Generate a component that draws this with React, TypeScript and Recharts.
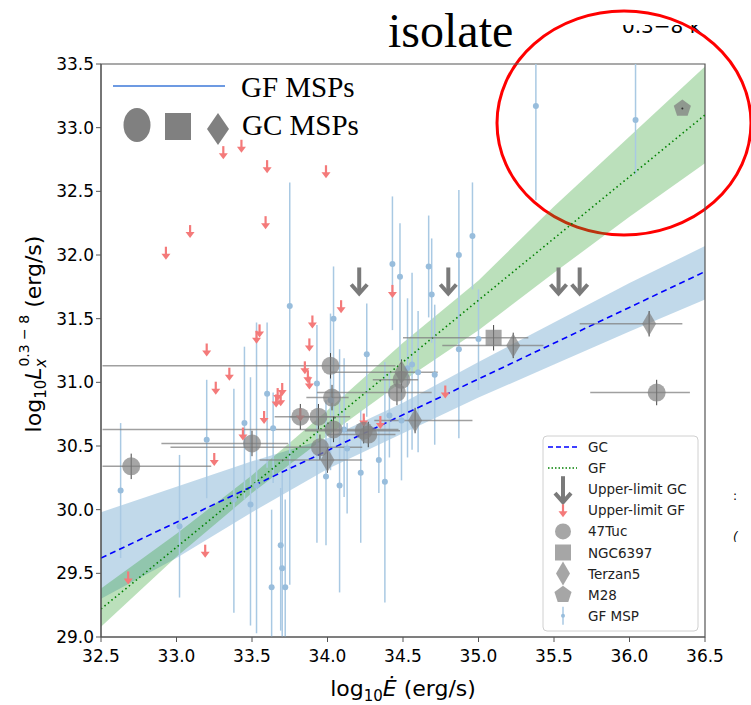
import React from "react";
import {
  Area,
  ComposedChart,
  Customized,
  ErrorBar,
  Line,
  ReferenceArea,
  Scatter,
  XAxis,
  YAxis,
} from "recharts";

// confidence bands of the two fits, read at these log Edot values
const bandX = [32.5, 33.0, 33.5, 34.0, 34.5, 35.0, 35.5, 36.0, 36.5];
const gcBandLow = [29.3, 29.62, 29.98, 30.32, 30.6, 30.88, 31.14, 31.4, 31.65];
const gcBandHigh = [29.98, 30.18, 30.38, 30.56, 30.84, 31.16, 31.47, 31.78, 32.07];
const gfBandLow = [29.08, 29.63, 30.13, 30.58, 31.01, 31.41, 31.86, 32.3, 32.72];
const gfBandHigh = [29.38, 29.81, 30.27, 30.78, 31.31, 31.8, 32.38, 32.93, 33.48];

// best-fit lines (end points)
const fitX = [32.5, 36.5];
const gcFitY = [29.62, 31.87];
const gfFitY = [29.22, 33.1];

// GF MSPs with detections (value, lower and upper end of the y error)
const gfMspX = [32.63, 33.02, 33.2, 33.38, 33.45, 33.49, 33.53, 33.6, 33.63, 33.64, 33.69, 33.7, 33.72, 33.75, 33.93, 33.99, 34.02, 34.04, 34.08, 34.11, 34.13, 34.22, 34.26, 34.34, 34.38, 34.41, 34.43, 34.48, 34.49, 34.53, 34.56, 34.6, 34.67, 34.69, 34.71, 34.87, 34.87, 34.96, 35.0, 35.38, 36.04];
const gfMspY = [30.15, 29.87, 30.55, 30.08, 30.68, 30.04, 30.19, 30.91, 29.39, 30.64, 29.72, 29.54, 29.39, 31.6, 30.99, 30.26, 30.86, 31.5, 30.19, 30.63, 30.48, 30.29, 31.22, 30.39, 30.22, 30.74, 31.93, 31.83, 30.7, 31.11, 31.14, 31.08, 31.91, 31.69, 31.06, 32.0, 31.26, 32.15, 31.34, 33.17, 33.06];
const gfMspLo = [29.62, 29.31, 30.09, 29.19, 30.08, 29.09, 29.03, 30.33, 29.0, 30.21, 29.05, 29.0, 29.0, 29.41, 29.74, 29.72, 30.31, 30.7, 29.35, 30.1, 29.97, 29.74, 30.73, 30.13, 29.27, 30.41, 31.41, 31.17, 30.23, 30.41, 30.47, 30.45, 31.51, 31.31, 30.51, 31.41, 30.56, 31.73, 30.94, 32.43, 32.63];
const gfMspHi = [30.68, 30.43, 31.02, 30.95, 31.28, 31.04, 31.47, 31.47, 30.0, 30.92, 30.17, 30.31, 30.08, 32.57, 31.45, 30.86, 31.54, 31.91, 31.26, 31.19, 30.68, 30.78, 31.62, 30.63, 31.16, 31.08, 32.46, 32.25, 31.07, 31.66, 31.86, 31.56, 32.31, 32.13, 31.61, 32.51, 31.96, 32.57, 31.73, 33.5, 33.5];

// upper limits
const ulGfX = [32.68, 32.93, 33.09, 33.19, 33.2, 33.25, 33.26, 33.31, 33.35, 33.43, 33.44, 33.53, 33.55, 33.58, 33.59, 33.6, 33.66, 33.67, 33.69, 33.7, 33.82, 33.85, 33.87, 33.88, 33.88, 33.9, 33.99, 34.09, 34.24, 34.35, 34.43, 34.78];
const ulGfY = [29.46, 32.01, 32.18, 29.67, 31.25, 30.39, 30.95, 32.8, 31.06, 32.85, 30.59, 31.35, 31.4, 30.72, 32.25, 32.69, 30.85, 30.9, 30.86, 30.94, 30.74, 31.11, 31.04, 30.99, 31.29, 31.47, 32.65, 31.59, 30.7, 30.68, 31.71, 30.92];
const ulGcX = [34.21, 34.8, 35.53, 35.67];
const ulGcY = [31.8, 31.8, 31.8, 31.8];

// globular cluster MSPs (y value, x error range)
const tucX = [32.7, 33.5, 33.82, 33.94, 34.02, 34.03, 34.04, 33.95, 34.24, 34.27, 34.46, 34.49, 36.18];
const tucY = [30.34, 30.52, 30.73, 30.73, 31.13, 30.88, 30.63, 30.49, 30.62, 30.59, 30.92, 31.02, 30.92];
const tucXLo = [32.51, 32.9, 33.65, 33.75, 32.51, 33.86, 32.51, 32.96, 33.85, 34.0, 33.93, 34.3, 35.74];
const tucXHi = [33.23, 33.74, 34.05, 34.15, 34.45, 34.14, 34.47, 34.23, 34.48, 34.45, 34.69, 34.6, 36.4];

const ngcX = [35.1];
const ngcY = [31.35];
const ngcXLo = [34.5];
const ngcXHi = [35.33];

const terX = [34.0, 34.49, 34.58, 35.23, 36.13];
const terY = [30.39, 31.08, 30.7, 31.29, 31.46];
const terXLo = [33.55, 34.02, 34.31, 34.76, 35.67];
const terXHi = [34.23, 34.73, 34.96, 35.43, 36.35];

const m28X = [36.35];
const m28Y = [33.15];

const gcYErr = 0.1;

const xTicks = [32.5, 33.0, 33.5, 34.0, 34.5, 35.0, 35.5, 36.0, 36.5];
const yTicks = [29.0, 29.5, 30.0, 30.5, 31.0, 31.5, 32.0, 32.5, 33.0, 33.5];

const legendLabels = ["GC", "GF", "Upper-limit GC", "Upper-limit GF", "47Tuc", "NGC6397", "Terzan5", "M28", "GF MSP"];

const GREY = "#808080";
const RED = "#f47a7a";
const MSP_BLUE = "#a9c9e3";

const fitRows = bandX.map((x, i) => {
  const k = fitX.indexOf(x);
  return {
    x,
    gcBand: [gcBandLow[i], gcBandHigh[i]],
    gfBand: [gfBandLow[i], gfBandHigh[i]],
    gcFit: k >= 0 ? gcFitY[k] : null,
    gfFit: k >= 0 ? gfFitY[k] : null,
  };
});

const gfMspRows = gfMspX.map((x, i) => ({
  x,
  y: gfMspY[i],
  ey: [gfMspY[i] - gfMspLo[i], gfMspHi[i] - gfMspY[i]],
}));

const pointRows = (xs: number[], ys: number[]) => xs.map((x, i) => ({ x, y: ys[i] }));

const gcRows = (xs: number[], ys: number[], lo: number[], hi: number[]) =>
  xs.map((x, i) => ({ x, y: ys[i], ex: [x - lo[i], hi[i] - x], ey: gcYErr }));

const pentagonPoints = (cx: number, cy: number, r: number) =>
  [0, 1, 2, 3, 4]
    .map((k) => {
      const a = ((-90 + k * 72) * Math.PI) / 180;
      return `${cx + r * Math.cos(a)},${cy + r * Math.sin(a)}`;
    })
    .join(" ");

const diamondPoints = (cx: number, cy: number, hw: number, hh: number) =>
  `${cx},${cy - hh} ${cx + hw},${cy} ${cx},${cy + hh} ${cx - hw},${cy}`;

// marker shapes
const MspDot = (p: any) => <circle cx={p.cx} cy={p.cy} r={3} fill="#98bddc" />;

const RedArrow = (p: any) => (
  <g>
    <line x1={p.cx} y1={p.cy - 7} x2={p.cx} y2={p.cy + 1} stroke={RED} strokeWidth={2.2} />
    <polygon points={`${p.cx - 4.5},${p.cy} ${p.cx + 4.5},${p.cy} ${p.cx},${p.cy + 6}`} fill={RED} />
  </g>
);

const GreyArrow = (p: any) => (
  <g stroke="#7a7a7a" strokeWidth={4} fill="none">
    <line x1={p.cx} y1={p.cy - 13} x2={p.cx} y2={p.cy + 12} />
    <polyline points={`${p.cx - 8},${p.cy + 4} ${p.cx},${p.cy + 13} ${p.cx + 8},${p.cy + 4}`} />
  </g>
);

const TucShape = (p: any) => <circle cx={p.cx} cy={p.cy} r={9} fill={GREY} fillOpacity={0.7} />;
const NgcShape = (p: any) => (
  <rect x={p.cx - 8} y={p.cy - 8} width={16} height={16} fill={GREY} fillOpacity={0.7} />
);
const TerShape = (p: any) => (
  <polygon points={diamondPoints(p.cx, p.cy, 7, 12)} fill={GREY} fillOpacity={0.7} />
);
const M28Shape = (p: any) => (
  <g>
    <polygon points={pentagonPoints(p.cx, p.cy, 9)} fill={GREY} fillOpacity={0.75} />
    <circle cx={p.cx} cy={p.cy} r={1} fill="#333" />
  </g>
);

function LegendGlyph({ i, cx, cy }: { i: number; cx: number; cy: number }) {
  switch (i) {
    case 0:
      return <line x1={cx - 15} y1={cy} x2={cx + 14} y2={cy} stroke="#0000ff" strokeWidth={1.5} strokeDasharray="5 3" />;
    case 1:
      return <line x1={cx - 15} y1={cy} x2={cx + 14} y2={cy} stroke="#008000" strokeWidth={1.5} strokeDasharray="1.5 2" />;
    case 2:
      return <GreyArrow cx={cx} cy={cy} />;
    case 3:
      return <RedArrow cx={cx} cy={cy + 1} />;
    case 4:
      return <circle cx={cx} cy={cy} r={8} fill={GREY} fillOpacity={0.7} />;
    case 5:
      return <rect x={cx - 8} y={cy - 8} width={16} height={16} fill={GREY} fillOpacity={0.7} />;
    case 6:
      return <polygon points={diamondPoints(cx, cy, 7, 12)} fill={GREY} fillOpacity={0.7} />;
    case 7:
      return <polygon points={pentagonPoints(cx, cy, 9)} fill={GREY} fillOpacity={0.7} />;
    default:
      return (
        <g>
          <line x1={cx} y1={cy - 9} x2={cx} y2={cy + 9} stroke={MSP_BLUE} strokeWidth={1.5} />
          <circle cx={cx} cy={cy} r={2} fill="#98bddc" />
        </g>
      );
  }
}

function Overlay() {
  return (
    <g>
      {/* annotation on top */}
      <text x={388} y={47} fontFamily="Liberation Serif" fontSize={48} fill="#000">
        isolate
      </text>
      <defs>
        <clipPath id="cutText">
          <rect x={600} y={25} width={151} height={15} />
        </clipPath>
      </defs>
      <text x={622} y={33} fontFamily="DejaVu Sans" fontSize={20} fill="#000" clipPath="url(#cutText)">
        0.3−8 k
      </text>
      <text x={733} y={500} fontFamily="DejaVu Sans" fontSize={12} fill="#000">:</text>
      <text x={733} y={541} fontFamily="DejaVu Sans" fontSize={12} fontStyle="italic" fill="#000">(</text>
      <ellipse cx={624} cy={123} rx={127} ry={112} fill="none" stroke="#ff0000" strokeWidth={3} />

      {/* inset legend, top left */}
      <line x1={113} y1={86} x2={225} y2={86} stroke="#3c78d8" strokeWidth={1.5} />
      <text x={241} y={97} fontFamily="Liberation Serif" fontSize={29} fill="#000">GF MSPs</text>
      <ellipse cx={137} cy={125} rx={13.5} ry={17} fill={GREY} />
      <rect x={165} y={113} width={26} height={27} fill={GREY} />
      <polygon points={diamondPoints(218, 129, 11, 16)} fill={GREY} />
      <text x={242} y={135} fontFamily="Liberation Serif" fontSize={29} fill="#000">GC MSPs</text>

      {/* main legend, bottom right */}
      <rect x={543} y={436} width={155} height={195} rx={4} fill="#ffffff" fillOpacity={0.85} stroke="#d0d0d0" />
      {legendLabels.map((label, i) => {
        const cy = 447 + i * 21.1;
        return (
          <g key={label}>
            <LegendGlyph i={i} cx={563} cy={cy} />
            <text x={588} y={cy + 5} fontFamily="DejaVu Sans" fontSize={13.5} fill="#222">
              {label}
            </text>
          </g>
        );
      })}

      {/* axis titles */}
      <text x={403} y={696} textAnchor="middle" fontFamily="DejaVu Sans" fontSize={22} fill="#000">
        log<tspan fontSize={15} dy={5}>10</tspan>
        <tspan dy={-5} fontStyle="italic">Ė</tspan> (erg/s)
      </text>
      <text
        x={41}
        y={334}
        transform="rotate(-90 41 334)"
        textAnchor="middle"
        fontFamily="DejaVu Sans"
        fontSize={22}
        fill="#000"
      >
        log<tspan fontSize={15} dy={5}>10</tspan>
        <tspan dy={-5} fontStyle="italic">L</tspan>
        <tspan fontSize={15} fontStyle="italic" dy={5}>x</tspan>
        <tspan fontSize={14} dx={-8} dy={-17}>0.3 − 8</tspan>
        <tspan dy={12}> (erg/s)</tspan>
      </text>
    </g>
  );
}

export default function App() {
  const tick = { fontSize: 17, fill: "#000", fontFamily: "DejaVu Sans" };
  return (
    <div style={{ position: "absolute", left: 0, top: 0, width: 751, height: 705, background: "#fff" }}>
      <ComposedChart
        width={751}
        height={705}
        data={fitRows}
        margin={{ top: 64, right: 46, bottom: 8, left: 41 }}
      >
        <XAxis
          dataKey="x"
          type="number"
          domain={[32.5, 36.5]}
          ticks={xTicks}
          allowDataOverflow
          tickFormatter={(v: number) => v.toFixed(1)}
          tick={tick}
          tickSize={5}
          tickMargin={8}
          height={60}
          stroke="#555"
        />
        <YAxis
          type="number"
          domain={[29, 33.5]}
          ticks={yTicks}
          allowDataOverflow
          tickFormatter={(v: number) => v.toFixed(1)}
          tick={tick}
          tickSize={5}
          tickMargin={2}
          width={60}
          stroke="#555"
        />

        <Area
          dataKey="gcBand"
          type="linear"
          stroke="none"
          fill="#1f77b4"
          fillOpacity={0.28}
          isAnimationActive={false}
        />
        <Area
          dataKey="gfBand"
          type="linear"
          stroke="none"
          fill="#2ca02c"
          fillOpacity={0.32}
          isAnimationActive={false}
        />

        <Scatter data={gfMspRows} dataKey="y" shape={MspDot} isAnimationActive={false}>
          <ErrorBar dataKey="ey" direction="y" width={0} stroke={MSP_BLUE} strokeWidth={1.5} />
        </Scatter>

        <Line
          dataKey="gcFit"
          type="linear"
          stroke="#0000ff"
          strokeWidth={1.6}
          strokeDasharray="6 4"
          dot={false}
          connectNulls
          isAnimationActive={false}
        />
        <Line
          dataKey="gfFit"
          type="linear"
          stroke="#008000"
          strokeWidth={1.6}
          strokeDasharray="1.5 3"
          dot={false}
          connectNulls
          isAnimationActive={false}
        />

        <Scatter data={pointRows(ulGfX, ulGfY)} dataKey="y" shape={RedArrow} isAnimationActive={false} />
        <Scatter data={pointRows(ulGcX, ulGcY)} dataKey="y" shape={GreyArrow} isAnimationActive={false} />

        <Scatter data={gcRows(tucX, tucY, tucXLo, tucXHi)} dataKey="y" shape={TucShape} isAnimationActive={false}>
          <ErrorBar dataKey="ex" direction="x" width={0} stroke={GREY} strokeOpacity={0.75} strokeWidth={1.5} />
          <ErrorBar dataKey="ey" direction="y" width={0} stroke="#444" strokeWidth={1} />
        </Scatter>
        <Scatter data={gcRows(ngcX, ngcY, ngcXLo, ngcXHi)} dataKey="y" shape={NgcShape} isAnimationActive={false}>
          <ErrorBar dataKey="ex" direction="x" width={0} stroke={GREY} strokeOpacity={0.75} strokeWidth={1.5} />
          <ErrorBar dataKey="ey" direction="y" width={0} stroke="#444" strokeWidth={1} />
        </Scatter>
        <Scatter data={gcRows(terX, terY, terXLo, terXHi)} dataKey="y" shape={TerShape} isAnimationActive={false}>
          <ErrorBar dataKey="ex" direction="x" width={0} stroke={GREY} strokeOpacity={0.75} strokeWidth={1.5} />
          <ErrorBar dataKey="ey" direction="y" width={0} stroke="#444" strokeWidth={1} />
        </Scatter>
        <Scatter data={pointRows(m28X, m28Y)} dataKey="y" shape={M28Shape} isAnimationActive={false} />

        <ReferenceArea x1={32.5} x2={36.5} y1={29} y2={33.5} fill="none" stroke="#555" strokeWidth={1.2} />
        <Customized component={Overlay} />
      </ComposedChart>
    </div>
  );
}
